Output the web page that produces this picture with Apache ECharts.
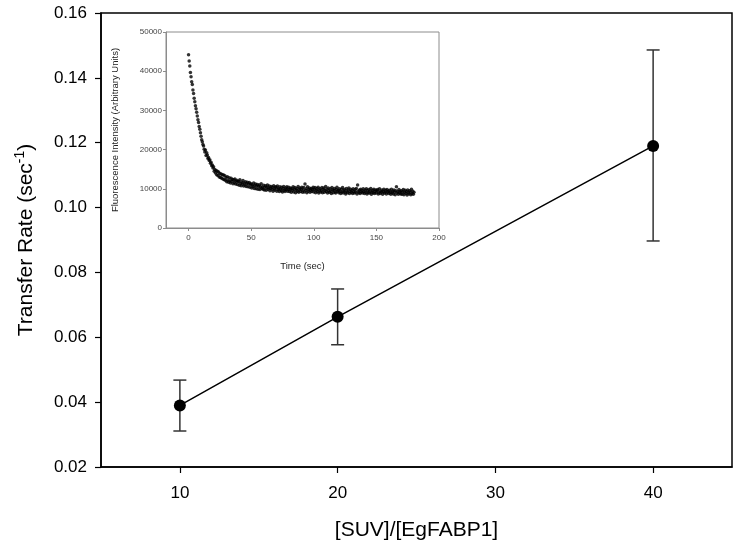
<!DOCTYPE html>
<html>
<head>
<meta charset="utf-8">
<script src="https://cdn.jsdelivr.net/npm/echarts@6/dist/echarts.min.js"></script>
<style>
html, body { margin: 0; padding: 0; background: #fff; }
#chart { width: 739px; height: 549px; }
</style>
</head>
<body>
<div id="chart"></div>
<script>
// main plot: transfer rate vs lipid/protein ratio
const rateX = [10, 20, 40];
const rateY = [0.039, 0.0663, 0.119];
const rateLow = [0.0311, 0.0577, 0.0897];
const rateHigh = [0.0468, 0.0749, 0.1486];
const mainXTicks = [10, 20, 30, 40];

// inset: fluorescence trace, one reading every 0.5 sec from t = 0
const fluoStep = 0.5;
const fluoValues = [
  44200, 42600, 41300, 39700, 38600, 37300, 36600, 35200, 34300, 33100, 32200, 31200, 30400, 29500, 28600, 27600, 26900, 25900, 25200, 24300,
  23400, 22500, 22000, 21300, 20900, 20100, 19400, 19900, 18500, 19200, 18600, 17700, 18000, 17200, 17400, 16500, 16800, 15900, 16100, 15300,
  15600, 14500, 14900, 14000, 14700, 13600, 14500, 13400, 14300, 13000, 13900, 12900, 13800, 12700, 13600, 12500, 13500, 12300, 13300, 12200,
  12900, 11800, 13100, 12200, 11700, 12800, 12000, 11500, 12700, 11900, 12400, 11300, 12300, 11600, 12500, 11200, 11900, 12200, 11100, 11800,
  11900, 10900, 12300, 11400, 10800, 11700, 11200, 12100, 10700, 11500, 11000, 11800, 10600, 11300, 11700, 10500, 11200, 11600, 10400, 11100,
  11300, 10200, 11000, 10600, 11500, 10100, 10800, 11200, 10000, 10700, 11100, 9900, 10600, 11000, 9800, 10500, 11300, 10100, 10400, 9900,
  10900, 9700, 10400, 10800, 9600, 10300, 11000, 9800, 10200, 10700, 9500, 10100, 10600, 9900, 10400, 9400, 10800, 10000, 9700, 10500,
  10300, 9400, 10700, 9800, 10100, 9300, 10500, 9900, 9500, 10400, 9200, 10000, 10600, 9600, 9300, 10200, 9800, 10500, 9400, 9900,
  10400, 9300, 9800, 10200, 9100, 10000, 9600, 10500, 9200, 9900, 10300, 9000, 9700, 10100, 9400, 10600, 9100, 9800, 10200, 9300,
  9900, 10400, 9100, 9700, 10300, 9200, 11200, 9600, 10000, 9000, 10500, 9400, 9800, 10200, 9100, 9700, 10100, 9300, 9900, 10400,
  9200, 9800, 10300, 9000, 9600, 10100, 9300, 10400, 8900, 9700, 10000, 9200, 9500, 10300, 9000, 9800, 10200, 9100, 9600, 10600,
  9300, 9900, 8900, 10200, 9500, 9100, 10000, 9400, 8800, 10300, 9700, 9000, 9600, 10100, 9200, 8900, 9800, 10400, 9300, 9600,
  9000, 10000, 9400, 8800, 9900, 9200, 10300, 8900, 9500, 9800, 9100, 8700, 10100, 9400, 9000, 9700, 10200, 8800, 9300, 9900,
  9100, 9600, 8800, 10000, 9300, 8900, 9800, 9200, 10100, 8700, 11000, 9400, 9000, 9700, 8800, 9900, 9200, 9500, 8900, 10000,
  9300, 8800, 9700, 9100, 10000, 8700, 9500, 9000, 9800, 8900, 9400, 10100, 8600, 9200, 9600, 9000, 9900, 8800, 9300, 9700,
  8900, 9500, 9800, 8700, 9200, 10000, 8800, 9400, 9100, 9700, 8600, 9300, 9900, 8900, 9200, 9600, 8700, 9800, 9100, 9400,
  8800, 9600, 9100, 8600, 9900, 9000, 9400, 8700, 9700, 9200, 8500, 9500, 10500, 8900, 9300, 8600, 9800, 9000, 9400, 8700,
  9500, 8600, 9200, 9800, 8500, 9100, 9600, 8800, 9300, 8400, 9700, 9000, 8700, 9500, 9200, 8500, 9900, 8800, 9400, 8600,
  9100
];
const insetXTicks = [0, 50, 100, 150, 200];

const FONT = '"Liberation Sans", Arial, sans-serif';

const chart = echarts.init(document.getElementById('chart'), null, { renderer: 'canvas' });

const points = rateX.map((x, i) => [x, rateY[i]]);
const bars = rateX.map((x, i) => [x, rateLow[i], rateHigh[i]]);
const trace = fluoValues.map((v, i) => [i * fluoStep, v]);

function errorBar(params, api) {
  const x = api.value(0);
  const lo = api.coord([x, api.value(1)]);
  const hi = api.coord([x, api.value(2)]);
  const w = 6.5;
  const st = { stroke: '#333', lineWidth: 1.5 };
  return {
    type: 'group',
    children: [
      { type: 'line', shape: { x1: hi[0], y1: hi[1], x2: lo[0], y2: lo[1] }, style: st },
      { type: 'line', shape: { x1: hi[0] - w, y1: hi[1], x2: hi[0] + w, y2: hi[1] }, style: st },
      { type: 'line', shape: { x1: lo[0] - w, y1: lo[1], x2: lo[0] + w, y2: lo[1] }, style: st }
    ]
  };
}

const option = {
  animation: false,
  backgroundColor: '#fff',
  grid: [
    {
      left: 101, top: 13, right: 7, bottom: 82,
      show: true, borderColor: '#000', borderWidth: 1.5
    },
    {
      left: 166, top: 32, width: 273, height: 196,
      show: true, borderColor: '#8c8c8c', borderWidth: 1, backgroundColor: '#fff'
    }
  ],
  xAxis: [
    {
      gridIndex: 0, type: 'value', min: 5, max: 45,
      name: '[SUV]/[EgFABP1]', nameLocation: 'middle', nameGap: 53,
      nameTextStyle: { fontFamily: FONT, fontSize: 21, color: '#000' },
      axisLine: { onZero: false, lineStyle: { color: '#000', width: 1.5 } },
      axisTick: { customValues: mainXTicks, length: 6, lineStyle: { color: '#000', width: 1.2 } },
      axisLabel: { customValues: mainXTicks, margin: 18, fontFamily: FONT, fontSize: 17, color: '#000' },
      splitLine: { show: false }
    },
    {
      gridIndex: 1, type: 'value', min: -18, max: 200,
      name: 'Time (sec)', nameLocation: 'middle', nameGap: 33,
      nameTextStyle: { fontFamily: FONT, fontSize: 9.5, color: '#222' },
      axisLine: { onZero: false, lineStyle: { color: '#8c8c8c', width: 1 } },
      axisTick: { customValues: insetXTicks, length: 3, lineStyle: { color: '#8c8c8c' } },
      axisLabel: { customValues: insetXTicks, margin: 6, fontFamily: FONT, fontSize: 8, color: '#444' },
      splitLine: { show: false }
    }
  ],
  yAxis: [
    {
      gridIndex: 0, type: 'value', min: 0.02, max: 0.16, interval: 0.02,
      name: '{a|Transfer Rate (sec}{b|-1}{a|)}', nameLocation: 'middle', nameGap: 62,
      nameTextStyle: {
        rich: {
          a: { fontFamily: FONT, fontSize: 21, color: '#000', lineHeight: 26 },
          b: { fontFamily: FONT, fontSize: 14, color: '#000', lineHeight: 26, verticalAlign: 'top' }
        }
      },
      axisLine: { onZero: false, lineStyle: { color: '#000', width: 1.5 } },
      axisTick: { length: 6, lineStyle: { color: '#000', width: 1.2 } },
      axisLabel: { margin: 14, fontFamily: FONT, fontSize: 17, color: '#000', formatter: v => v.toFixed(2) },
      splitLine: { show: false }
    },
    {
      gridIndex: 1, type: 'value', min: 0, max: 50000, interval: 10000,
      name: 'Fluorescence Intensity (Arbitrary Units)', nameLocation: 'middle', nameGap: 46,
      nameTextStyle: { fontFamily: FONT, fontSize: 9.5, color: '#222' },
      axisLine: { onZero: false, lineStyle: { color: '#8c8c8c', width: 1 } },
      axisTick: { length: 3, lineStyle: { color: '#8c8c8c' } },
      axisLabel: { margin: 4, fontFamily: FONT, fontSize: 8, color: '#444', formatter: v => String(v) },
      splitLine: { show: false }
    }
  ],
  series: [
    {
      type: 'custom', xAxisIndex: 0, yAxisIndex: 0,
      renderItem: errorBar, data: bars, z: 2
    },
    {
      type: 'line', xAxisIndex: 0, yAxisIndex: 0, data: points,
      symbol: 'circle', symbolSize: 12,
      lineStyle: { color: '#000', width: 1.5 },
      itemStyle: { color: '#000' }, z: 3
    },
    {
      type: 'scatter', xAxisIndex: 1, yAxisIndex: 1, data: trace,
      symbol: 'circle', symbolSize: 3.5,
      itemStyle: { color: '#000' }
    }
  ]
};

chart.setOption(option);
</script>
</body>
</html>
